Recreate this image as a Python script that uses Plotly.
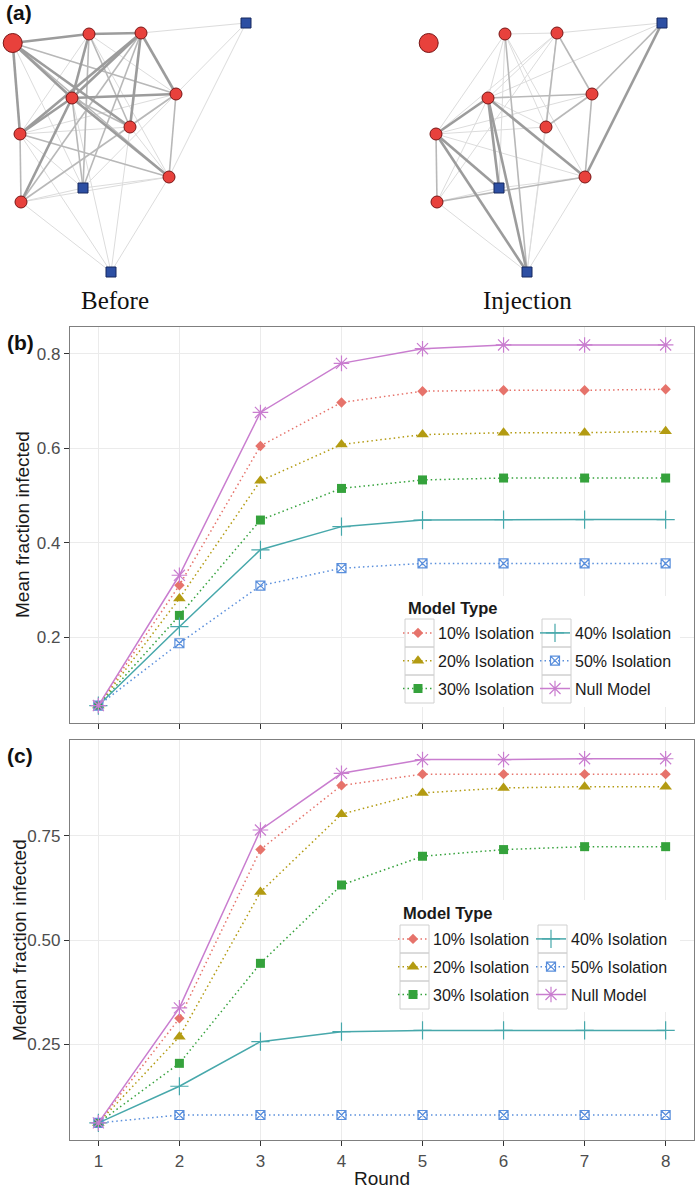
import plotly.graph_objects as go

W, H = 700, 1190

# ---------------- data ----------------
ROUNDS = [1, 2, 3, 4, 5, 6, 7, 8]
MODELS = ["10% Isolation", "20% Isolation", "30% Isolation",
          "40% Isolation", "50% Isolation", "Null Model"]

MEAN_10 = [0.055, 0.310, 0.605, 0.697, 0.721, 0.723, 0.723, 0.725]
MEAN_20 = [0.055, 0.282, 0.531, 0.608, 0.629, 0.633, 0.633, 0.636]
MEAN_30 = [0.055, 0.246, 0.448, 0.515, 0.533, 0.537, 0.537, 0.537]
MEAN_40 = [0.055, 0.222, 0.385, 0.434, 0.448, 0.449, 0.449, 0.449]
MEAN_50 = [0.055, 0.187, 0.309, 0.346, 0.356, 0.356, 0.356, 0.356]
MEAN_NULL = [0.055, 0.331, 0.676, 0.780, 0.811, 0.819, 0.819, 0.819]

MEDIAN_10 = [0.061, 0.312, 0.717, 0.871, 0.898, 0.898, 0.898, 0.898]
MEDIAN_20 = [0.061, 0.268, 0.615, 0.802, 0.853, 0.865, 0.868, 0.868]
MEDIAN_30 = [0.061, 0.204, 0.444, 0.632, 0.701, 0.717, 0.724, 0.724]
MEDIAN_40 = [0.061, 0.149, 0.256, 0.280, 0.283, 0.283, 0.283, 0.283]
MEDIAN_50 = [0.061, 0.080, 0.080, 0.080, 0.080, 0.080, 0.080, 0.080]
MEDIAN_NULL = [0.061, 0.337, 0.764, 0.900, 0.933, 0.933, 0.935, 0.935]

MEAN_TICKS = [0.2, 0.4, 0.6, 0.8]
MEDIAN_TICKS = [0.25, 0.50, 0.75]

# network (panel a): node layout shared by both snapshots
NODE_X = [12.7, 89, 141, 72, 176, 20, 130, 169, 21, 246, 83, 111]
NODE_Y = [43, 34, 33, 98, 94, 134, 127, 177, 202, 23, 188, 272]
NODE_KIND = ["big", "red", "red", "red", "red", "red", "red", "red", "red",
             "blue", "blue", "blue"]
NET_LABELS = ["Before", "Injection"]
NET_SHIFT = [0, 416]

# (node i, node j, weight class 1..3)
EDGES_BEFORE = [
    (0, 1, 3), (1, 2, 3), (0, 3, 3), (0, 6, 3), (0, 5, 3), (0, 7, 2), (0, 4, 2), (0, 10, 1),
    (2, 3, 3), (2, 6, 3), (2, 5, 3), (2, 4, 3), (2, 8, 2), (2, 10, 2),
    (1, 3, 3), (1, 6, 2), (1, 10, 2), (1, 4, 1), (1, 7, 1), (1, 5, 1),
    (3, 4, 3), (3, 6, 2), (3, 5, 3), (3, 7, 3), (3, 8, 3), (3, 10, 2),
    (4, 7, 2), (4, 5, 1), (4, 8, 2), (4, 10, 1), (4, 9, 1), (4, 6, 1),
    (5, 7, 2), (5, 8, 2), (5, 10, 1), (5, 11, 1), (5, 6, 1),
    (7, 8, 1), (7, 11, 1), (7, 10, 1), (7, 6, 1),
    (8, 11, 1), (8, 10, 1), (9, 2, 1), (9, 7, 1), (11, 6, 1), (11, 3, 1),
]
EDGES_INJECTION = [
    (1, 2, 1), (2, 9, 1), (3, 9, 1),
    (1, 5, 1), (1, 3, 1), (1, 11, 2), (1, 7, 1), (1, 6, 1), (1, 10, 1),
    (2, 3, 1), (2, 5, 1), (2, 6, 2), (2, 4, 2), (2, 8, 1),
    (3, 5, 3), (3, 4, 2), (3, 6, 1), (3, 7, 3), (3, 10, 3), (3, 11, 3), (3, 8, 1),
    (4, 6, 2), (4, 7, 2), (4, 9, 2), (4, 5, 1),
    (5, 10, 3), (5, 11, 3), (5, 8, 2), (5, 6, 1), (5, 7, 1),
    (7, 9, 3), (7, 8, 2), (7, 11, 1), (7, 10, 1),
    (8, 11, 1), (8, 10, 1), (11, 6, 1), (11, 2, 1),
]

# ---------------- styles ----------------
FONT = "Liberation Sans, Arial, sans-serif"
COLORS = ["#E6736B", "#B39B12", "#35A23C", "#47A8AB", "#5A8FDC", "#C97DCF"]
SYMBOLS = ["diamond", "triangle-up", "square", "cross-thin-open", "square-x-open", "asterisk-open"]
SIZES = [8, 11, 9, 13, 9, 13]
DASHES = ["1.5px,3px", "1.5px,3px", "1.5px,3px", "solid", "1.5px,3px", "solid"]
EDGE_STYLE = {3: ("#9C9C9C", 2.6), 2: ("#B8B8B8", 1.6), 1: ("#DCDCDC", 1.0)}


def px(x):
    return x / W


def py(y):
    return 1 - y / H


fig = go.Figure()

# ---------------- panel (a): networks ----------------
for label, shift, edges in zip(NET_LABELS, NET_SHIFT, [EDGES_BEFORE, EDGES_INJECTION]):
    for w in [1, 2, 3]:
        ex, ey = [], []
        for i, j, c in edges:
            if c == w:
                ex += [NODE_X[i] + shift, NODE_X[j] + shift, None]
                ey += [NODE_Y[i], NODE_Y[j], None]
        col, lw = EDGE_STYLE[w]
        fig.add_trace(go.Scatter(x=ex, y=ey, mode="lines", xaxis="x3", yaxis="y3",
                                 line=dict(color=col, width=lw), showlegend=False,
                                 hoverinfo="skip"))
    for kind, sym, size, fill, edge in [("red", "circle", 12, "#E8413C", "#7A1515"),
                                        ("big", "circle", 19, "#E8413C", "#7A1515"),
                                        ("blue", "square", 10, "#2D4FA3", "#17285E")]:
        xs = [NODE_X[k] + shift for k in range(len(NODE_X)) if NODE_KIND[k] == kind]
        ys = [NODE_Y[k] for k in range(len(NODE_X)) if NODE_KIND[k] == kind]
        fig.add_trace(go.Scatter(x=xs, y=ys, mode="markers", xaxis="x3", yaxis="y3",
                                 marker=dict(symbol=sym, size=size, color=fill,
                                             line=dict(color=edge, width=1)),
                                 showlegend=False, hoverinfo="skip"))

# ---------------- panels (b) and (c) ----------------
MEAN = [MEAN_10, MEAN_20, MEAN_30, MEAN_40, MEAN_50, MEAN_NULL]
MEDIAN = [MEDIAN_10, MEDIAN_20, MEDIAN_30, MEDIAN_40, MEDIAN_50, MEDIAN_NULL]
for panel, (series, xa, ya, legs) in enumerate([
        (MEAN, "x", "y", ["legend", "legend2"]),
        (MEDIAN, "x2", "y2", ["legend3", "legend4"])]):
    for k, name in enumerate(MODELS):
        filled = k in (0, 1, 2)
        fig.add_trace(go.Scatter(
            x=ROUNDS, y=series[k], name=name, xaxis=xa, yaxis=ya,
            mode="lines+markers",
            line=dict(color=COLORS[k], width=1.5, dash=DASHES[k]),
            marker=dict(symbol=SYMBOLS[k], size=SIZES[k], color=COLORS[k],
                        line=dict(color=COLORS[k], width=0 if filled else 1.2)),
            legend=legs[0] if k < 3 else legs[1],
            legendgroup=f"p{panel}_{k}",
            showlegend=True))

common_x = dict(range=[0.65, 8.35], tickvals=ROUNDS, showgrid=True, gridcolor="#EBEBEB",
                gridwidth=1, zeroline=False, showline=True, linecolor="#7F7F7F",
                linewidth=1.3, mirror=True, ticks="outside", ticklen=5, tickcolor="#333333",
                tickfont=dict(family=FONT, size=17, color="#4D4D4D"))
common_y = dict(showgrid=True, gridcolor="#EBEBEB", gridwidth=1, zeroline=False,
                showline=True, linecolor="#7F7F7F", linewidth=1.3, mirror=True,
                ticks="outside", ticklen=5, tickcolor="#333333",
                tickfont=dict(family=FONT, size=17, color="#4D4D4D"))

leg_common = dict(font=dict(family=FONT, size=16, color="#1A1A1A"), bgcolor="rgba(0,0,0,0)",
                  borderwidth=0, orientation="v", traceorder="grouped", tracegroupgap=4,
                  xanchor="left", yanchor="top", itemclick=False, itemdoubleclick=False)

fig.update_layout(
    width=W, height=H, margin=dict(l=0, r=0, t=0, b=0),
    paper_bgcolor="white", plot_bgcolor="white",
    xaxis=dict(domain=[px(70), px(694)], anchor="y", showticklabels=False, **common_x),
    yaxis=dict(domain=[py(723), py(327)], anchor="x", range=[0.018, 0.857],
               tickvals=MEAN_TICKS, tickformat=".1f", **common_y),
    xaxis2=dict(domain=[px(70), px(694)], anchor="y2", **common_x),
    yaxis2=dict(domain=[py(1140), py(740)], anchor="x2", range=[0.02, 0.98],
                tickvals=MEDIAN_TICKS, tickformat=".2f", **common_y),
    xaxis3=dict(domain=[0, 1], anchor="y3", range=[0, W], visible=False),
    yaxis3=dict(domain=[py(310), 1], anchor="x3", range=[310, 0], visible=False),
    legend=dict(x=px(398), y=py(616), **leg_common),
    legend2=dict(x=px(535), y=py(616), **leg_common),
    legend3=dict(x=px(393), y=py(922), **leg_common),
    legend4=dict(x=px(531), y=py(922), **leg_common),
    showlegend=True,
)

# legend backgrounds and key boxes
shapes = []
for (x0, x1, y0, y1) in [(404, 680, 596, 707), (398, 680, 900, 1012)]:
    shapes.append(dict(type="rect", xref="paper", yref="paper", x0=px(x0), x1=px(x1),
                       y0=py(y0), y1=py(y1), fillcolor="white", line=dict(width=0),
                       layer="above"))
for (cols, top) in [([405, 542], 619), ([400, 538], 925)]:
    for cx in cols:
        for r in range(3):
            shapes.append(dict(type="rect", xref="paper", yref="paper",
                               x0=px(cx), x1=px(cx + 29), y0=py(top + r * 28),
                               y1=py(top + (r + 1) * 28), fillcolor="rgba(0,0,0,0)",
                               line=dict(color="#D0D0D0", width=1), layer="above"))
fig.update_layout(shapes=shapes)

ann = []
# legend titles
for (x, y) in [(406, 608), (401, 913)]:
    ann.append(dict(text="<b>Model Type</b>", x=px(x), y=py(y), xref="paper", yref="paper",
                    xanchor="left", yanchor="middle", showarrow=False,
                    font=dict(family=FONT, size=16.5, color="#1A1A1A")))
# panel tags
for (t, x, y) in [("(a)", 19, 13), ("(b)", 20, 342), ("(c)", 20, 755)]:
    ann.append(dict(text=f"<b>{t}</b>", x=px(x), y=py(y), xref="paper", yref="paper",
                    xanchor="center", yanchor="middle", showarrow=False,
                    font=dict(family=FONT, size=21, color="#111111")))
# axis titles
ann.append(dict(text="Mean fraction infected", x=px(22), y=py(525), xref="paper", yref="paper",
                textangle=-90, showarrow=False, xanchor="center", yanchor="middle",
                font=dict(family=FONT, size=19, color="#1A1A1A")))
ann.append(dict(text="Median fraction infected", x=px(19), y=py(940), xref="paper", yref="paper",
                textangle=-90, showarrow=False, xanchor="center", yanchor="middle",
                font=dict(family=FONT, size=19, color="#1A1A1A")))
ann.append(dict(text="Round", x=px(382), y=py(1178), xref="paper", yref="paper",
                showarrow=False, xanchor="center", yanchor="middle",
                font=dict(family=FONT, size=19, color="#1A1A1A")))
# network captions
for label, shift in zip(NET_LABELS, NET_SHIFT):
    ann.append(dict(text=label, x=px(115 + shift - (4 if shift else 0)), y=py(300), xref="paper",
                    yref="paper", showarrow=False, xanchor="center", yanchor="middle",
                    font=dict(family="Liberation Serif, Times New Roman, serif", size=25,
                              color="#111111")))
fig.update_layout(annotations=ann)

fig.write_html("out.html", config={"displayModeBar": False},
               post_script="document.body.style.margin='0';document.body.style.overflow='hidden';")
